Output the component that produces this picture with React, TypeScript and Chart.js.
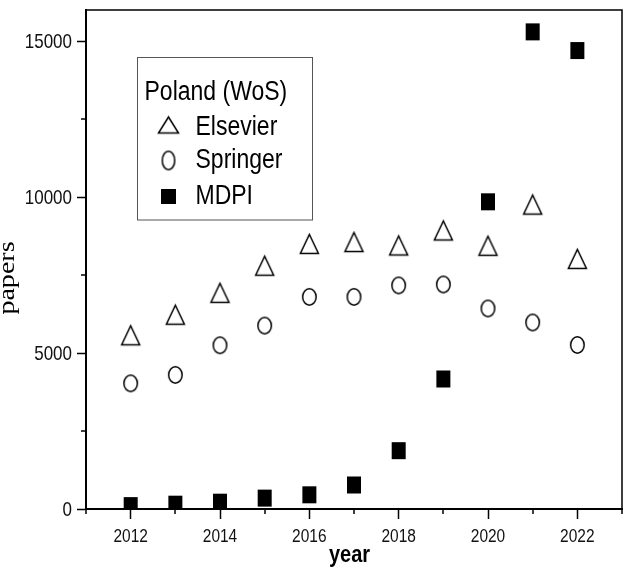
import { useEffect, useRef } from 'react';
import { Chart, registerables } from 'chart.js';
import type { Plugin } from 'chart.js';

Chart.register(...registerables);

const years = [2012, 2013, 2014, 2015, 2016, 2017, 2018, 2019, 2020, 2021, 2022];
const elsevier = [5570, 6230, 6930, 7800, 8500, 8560, 8450, 8930, 8440, 9760, 8020];
const springer = [4030, 4300, 5250, 5880, 6800, 6800, 7170, 7200, 6430, 5980, 5260];
const mdpi = [110, 155, 220, 350, 455, 770, 1870, 4170, 9850, 15300, 14700];

const yearTicks = [2012, 2014, 2016, 2018, 2020, 2022];
const yearMinorTicks = [2011, 2013, 2015, 2017, 2019, 2021, 2023];
const paperTicks = [0, 5000, 10000, 15000];
const paperMinorTicks = [2500, 7500, 12500];

const legendTitle = 'Poland (WoS)';
const seriesNames = ['Elsevier', 'Springer', 'MDPI'];
const xTitle = 'year';
const yTitle = 'papers';

const SANS = '"Liberation Sans", Arial, sans-serif';
const SERIF = '"Liberation Serif", "Times New Roman", serif';

// marker bitmaps: the reference is stretched vertically, so shapes are taller than wide
function makeMarker(kind: 'triangle' | 'circle' | 'rect', w: number, h: number) {
  const pad = 2;
  const c = document.createElement('canvas');
  c.width = w + pad * 2;
  c.height = h + pad * 2;
  const g = c.getContext('2d')!;
  g.strokeStyle = '#000';
  g.fillStyle = '#000';
  g.lineWidth = 1.5;
  if (kind === 'triangle') {
    g.beginPath();
    g.moveTo(pad + w / 2, pad + 0.5);
    g.lineTo(pad + w - 0.5, pad + h - 0.5);
    g.lineTo(pad + 0.5, pad + h - 0.5);
    g.closePath();
    g.stroke();
  } else if (kind === 'circle') {
    g.beginPath();
    g.ellipse(pad + w / 2, pad + h / 2, w / 2 - 0.75, h / 2 - 0.75, 0, 0, Math.PI * 2);
    g.stroke();
  } else {
    g.fillRect(pad, pad, w, h);
  }
  return c;
}

function stretchedText(
  ctx: CanvasRenderingContext2D,
  text: string,
  x: number,
  y: number,
  font: string,
  sy: number,
  align: CanvasTextAlign = 'left',
  color = '#000',
) {
  ctx.save();
  ctx.translate(x, y);
  ctx.scale(1, sy);
  ctx.font = font;
  ctx.fillStyle = color;
  ctx.textAlign = align;
  ctx.textBaseline = 'alphabetic';
  ctx.fillText(text, 0, 0);
  ctx.restore();
}

export default function App() {
  const canvasRef = useRef<HTMLCanvasElement>(null);

  useEffect(() => {
    if (!canvasRef.current) return;
    const ctx = canvasRef.current.getContext('2d');
    if (!ctx) return;

    const triangle = makeMarker('triangle', 19, 20);
    const circle = makeMarker('circle', 15, 18);
    const square = makeMarker('rect', 14, 17);
    const legendMarkers = [
      makeMarker('triangle', 21, 17),
      makeMarker('circle', 14, 20),
      makeMarker('rect', 15, 15),
    ];

    const decorations: Plugin<'scatter'> = {
      id: 'decorations',
      afterDraw(chart) {
        const c = chart.ctx;
        const { left, right, top, bottom } = chart.chartArea;
        const xs = chart.scales.x;
        const ys = chart.scales.y;

        c.save();
        // top and right frame
        c.strokeStyle = '#000';
        c.lineWidth = 1.5;
        c.beginPath();
        c.moveTo(left, top);
        c.lineTo(right, top);
        c.lineTo(right, bottom);
        c.stroke();

        // minor ticks
        c.beginPath();
        yearMinorTicks.forEach((v) => {
          const px = Math.round(xs.getPixelForValue(v));
          c.moveTo(px, bottom);
          c.lineTo(px, bottom + 5);
        });
        paperMinorTicks.forEach((v) => {
          const py = Math.round(ys.getPixelForValue(v));
          c.moveTo(left, py);
          c.lineTo(left - 5, py);
        });
        c.stroke();

        // tick labels (narrow, vertically stretched like the reference)
        xs.ticks.forEach((t) => {
          const px = xs.getPixelForValue(t.value);
          stretchedText(c, String(t.value), px, bottom + 33, `15.5px ${SANS}`, 1.22, 'center', '#111');
        });
        ys.ticks.forEach((t) => {
          const py = ys.getPixelForValue(t.value);
          stretchedText(c, String(t.value), left - 14, py + 7.3, `17px ${SANS}`, 1.2, 'right', '#111');
        });

        // legend box
        const bx = 137.5;
        const by = 57.5;
        c.strokeStyle = '#555';
        c.lineWidth = 1;
        c.strokeRect(bx, by, 175, 162.5);

        stretchedText(c, legendTitle, bx + 7, by + 42.5, `23px ${SANS}`, 1.17);
        const baselines = [77.5, 110.5, 146.5];
        const markerY = [67.5, 103, 139];
        seriesNames.forEach((name, i) => {
          stretchedText(c, name, bx + 58, by + baselines[i], `23px ${SANS}`, 1.17);
          const m = legendMarkers[i];
          c.drawImage(m, bx + 31 - m.width / 2, by + markerY[i] - m.height / 2);
        });

        // axis titles
        stretchedText(c, xTitle, (left + right) / 2 - 4.5, 562, `bold 20px ${SANS}`, 1.2, 'center');

        c.translate(14, 278);
        c.rotate(-Math.PI / 2);
        c.scale(1.22, 1);
        c.font = `23px ${SERIF}`;
        c.fillStyle = '#000';
        c.textAlign = 'center';
        c.textBaseline = 'alphabetic';
        c.fillText(yTitle, 0, 0);
        c.restore();
      },
    };

    const chart = new Chart(ctx, {
      type: 'scatter',
      data: {
        datasets: [
          {
            label: seriesNames[0],
            data: years.map((x, i) => ({ x, y: elsevier[i] })),
            pointStyle: triangle,
            pointRadius: 9,
            clip: 0,
          },
          {
            label: seriesNames[1],
            data: years.map((x, i) => ({ x, y: springer[i] })),
            pointStyle: circle,
            pointRadius: 9,
            clip: 0,
          },
          {
            label: seriesNames[2],
            data: years.map((x, i) => ({ x, y: mdpi[i] })),
            pointStyle: square,
            pointRadius: 9,
            clip: 0,
          },
        ],
      },
      options: {
        responsive: true,
        maintainAspectRatio: false,
        animation: false,
        events: [],
        layout: { padding: { top: 8, right: 10, left: 0, bottom: 0 } },
        plugins: { legend: { display: false }, tooltip: { enabled: false } },
        scales: {
          x: {
            type: 'linear',
            min: 2011,
            max: 2023,
            afterBuildTicks: (s) => {
              s.ticks = yearTicks.map((v) => ({ value: v }));
            },
            afterFit: (s) => {
              s.height = 64;
              s.paddingLeft = 0;
              s.paddingRight = 0;
            },
            grid: { drawOnChartArea: false, drawTicks: true, tickLength: 10, tickColor: '#000', tickWidth: 1.5 },
            border: { display: true, color: '#000', width: 2 },
            ticks: { display: false },
          },
          y: {
            min: 0,
            max: 16000,
            afterBuildTicks: (s) => {
              s.ticks = paperTicks.map((v) => ({ value: v }));
            },
            afterFit: (s) => {
              s.width = 86;
              s.paddingTop = 0;
              s.paddingBottom = 0;
            },
            grid: { drawOnChartArea: false, drawTicks: true, tickLength: 9, tickColor: '#000', tickWidth: 1.5 },
            border: { display: true, color: '#000', width: 2 },
            ticks: { display: false },
          },
        },
      },
      plugins: [decorations],
    });

    return () => chart.destroy();
  }, []);

  return (
    <div style={{ position: 'fixed', left: 0, top: 0, width: 632, height: 573, background: '#fff' }}>
      <canvas ref={canvasRef} />
    </div>
  );
}
